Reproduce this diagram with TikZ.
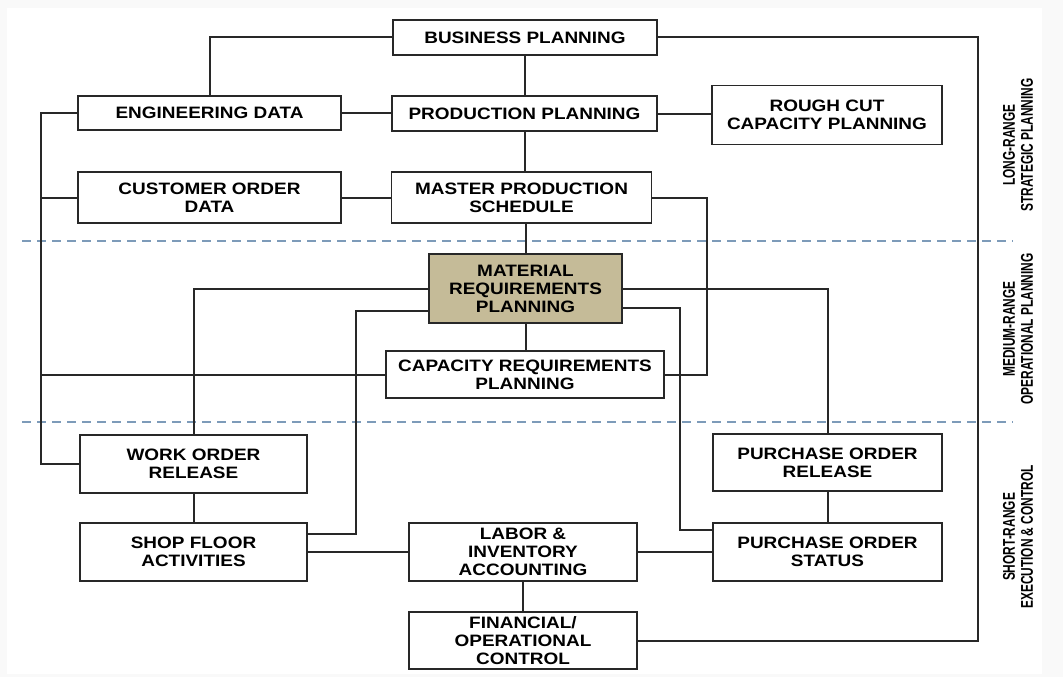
\documentclass[tikz,border=0pt]{standalone}
\usepackage{fontspec}
\usepackage{tikz}
\usetikzlibrary{calc}
\newfontfamily\boxfont[FakeStretch=1.15]{Liberation Sans}
\newfontfamily\zonefont[FakeStretch=0.7]{Liberation Sans}
\definecolor{mrpcolor}{RGB}{197,187,152}
\definecolor{linecolor}{RGB}{40,40,40}
\definecolor{zonecolor}{RGB}{125,155,185}
\tikzset{
  blk/.style={draw=linecolor, line width=1.9pt, fill=white, align=center,
    inner sep=0pt, text=black,
    font=\boxfont\bfseries\fontsize{16.5}{18}\selectfont},
  zoneline/.style={draw=zonecolor, line width=1.2pt, dash pattern=on 9pt off 6pt},
  zonelbl/.style={rotate=90, align=center, text=black,
    font=\zonefont\bfseries\fontsize{17}{18}\selectfont},
  link/.style={draw=linecolor, line width=2pt}
}
\begin{document}
\begin{tikzpicture}[x=1pt, y=-1pt]
    \useasboundingbox (0,0) rectangle (1063,677);
    \fill[gray!5] (0,0) rectangle (1063,677);
    \fill[white] (7,8) rectangle (1042,674);
    % planning horizons
    \draw[zoneline] (22,241) -- (1013,241);
    \draw[zoneline] (22,422) -- (1013,422);
    \node[zonelbl] (long) at (1018,145) {LONG-RANGE\\STRATEGIC PLANNING};
    \node[zonelbl] (medium) at (1018,329) {MEDIUM-RANGE\\OPERATIONAL PLANNING};
    \node[zonelbl] (short) at (1018,537) {SHORT-RANGE\\EXECUTION \& CONTROL};
    % long-range blocks
    \node[blk, minimum width=264, minimum height=35] (biz) at (525,37.5) {BUSINESS PLANNING};
    \node[blk, minimum width=263, minimum height=34] (eng) at (209.5,113) {ENGINEERING DATA};
    \node[blk, minimum width=265, minimum height=35] (prod) at (524.5,113.5) {PRODUCTION PLANNING};
    \node[blk, minimum width=230, minimum height=59] (rough) at (827,115) {ROUGH CUT\\CAPACITY PLANNING};
    \node[blk, minimum width=263, minimum height=51] (cust) at (209.5,197.5) {CUSTOMER ORDER\\DATA};
    \node[blk, minimum width=260, minimum height=51] (mps) at (521.5,197.5) {MASTER PRODUCTION\\SCHEDULE};
    % medium-range blocks
    \node[blk, fill=mrpcolor, minimum width=193, minimum height=69] (mrp) at (525.5,288.5) {MATERIAL\\REQUIREMENTS\\PLANNING};
    \node[blk, minimum width=278, minimum height=47] (crp) at (525,374.5) {CAPACITY REQUIREMENTS\\PLANNING};
    % short-range blocks
    \node[blk, minimum width=227, minimum height=58] (wor) at (193.5,464) {WORK ORDER\\RELEASE};
    \node[blk, minimum width=229, minimum height=57] (por) at (827.5,462.5) {PURCHASE ORDER\\RELEASE};
    \node[blk, minimum width=227, minimum height=58] (sfa) at (193.5,552) {SHOP FLOOR\\ACTIVITIES};
    \node[blk, minimum width=228, minimum height=58] (lia) at (523,552) {LABOR \&\\INVENTORY\\ACCOUNTING};
    \node[blk, minimum width=229, minimum height=58] (pos) at (827.5,552) {PURCHASE ORDER\\STATUS};
    \node[blk, minimum width=228, minimum height=57] (fin) at (523,640.5) {FINANCIAL/\\OPERATIONAL\\CONTROL};
    % bus lines
    \coordinate (lbus) at (41,0);
    \coordinate (rbus) at (978,0);
    % connectors
    \draw[link] (biz.west) -| (eng.north);
    \draw[link] (biz.south) -- (biz.south |- prod.north);
    \draw[link] (biz.east) -- (biz.east -| rbus) |- (fin.east);
    \draw[link] (eng.east) -- (eng.east -| prod.west);
    \draw[link] (prod.east) -- (prod.east -| rough.west);
    \draw[link] (prod.south) -- (prod.south |- mps.north);
    \draw[link] (cust.east) -- (cust.east -| mps.west);
    \draw[link] (eng.west) -| (lbus |- wor.west) -- (wor.west);
    \draw[link] (cust.west) -- (cust.west -| lbus);
    \draw[link] (crp.west) -- (crp.west -| lbus);
    \draw[link] (mrp.north) -- (mrp.north |- mps.south);
    \draw[link] (mps.east) -- ++(55,0) |- (crp.east);
    \draw[link] (mrp.south) -- (mrp.south |- crp.north);
    \draw[link] (mrp.west) -| (wor.north);
    \draw[link] ([yshift=-22pt]mrp.west) -- ++(-72,0) |- ([yshift=18pt]sfa.east);
    \draw[link] (mrp.east) -| (por.north);
    \draw[link] ([yshift=-19pt]mrp.east) -- ++(57,0) |- ([yshift=22pt]pos.west);
    \draw[link] (wor) -- (sfa);
    \draw[link] (por) -- (pos);
    \draw[link] (sfa) -- (lia);
    \draw[link] (lia) -- (pos);
    \draw[link] (lia) -- (fin);
  \end{tikzpicture}
\end{document}
